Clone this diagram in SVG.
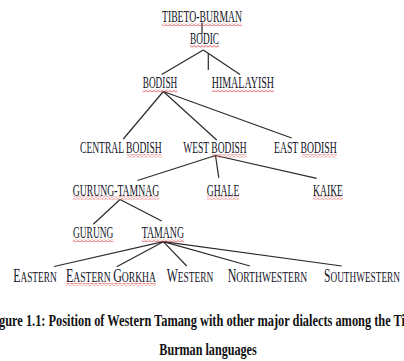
<svg xmlns="http://www.w3.org/2000/svg" width="404" height="361" viewBox="0 0 404 361">
<defs>
<pattern id="wavy" x="0" y="0" width="4" height="3" patternUnits="userSpaceOnUse">
<path d="M0,2.2 L2,0.6 L4,2.2" fill="none" stroke="#e23a3a" stroke-width="0.8"/>
</pattern>
</defs>
<style>
.lbl{font-family:"Liberation Serif","Times New Roman",serif;font-size:16px;fill:#14141f}
.big{font-family:"Liberation Serif","Times New Roman",serif;fill:#14141f}
.cap{font-family:"Liberation Serif","Times New Roman",serif;font-weight:bold;font-size:17px;fill:#111}
.sq{fill:url(#wavy)}
.conn line{stroke:#2a2a2a;stroke-width:1.2}
</style>
<rect width="404" height="361" fill="#ffffff"/>
<g class="conn" id="connectors">
<line x1="202" y1="22.5" x2="202" y2="34"/>
<line x1="203.3" y1="50" x2="161.7" y2="74.5"/>
<line x1="203.3" y1="50" x2="240" y2="74.5"/>
<line x1="208.3" y1="53" x2="208.3" y2="70"/>
<line x1="163.3" y1="91.5" x2="123.3" y2="139"/>
<line x1="163.3" y1="91.5" x2="216.7" y2="140"/>
<line x1="163.3" y1="91.5" x2="291.7" y2="138"/>
<line x1="215.5" y1="155.5" x2="137.5" y2="180.5"/>
<line x1="215.5" y1="155.5" x2="218.8" y2="177.8"/>
<line x1="215.5" y1="155.5" x2="316.7" y2="178.3"/>
<line x1="120" y1="199.5" x2="93.3" y2="224.3"/>
<line x1="120" y1="199.5" x2="161.7" y2="221"/>
<line x1="163.3" y1="241.7" x2="54" y2="266.5"/>
<line x1="163.3" y1="241.7" x2="116.7" y2="266.7"/>
<line x1="163.3" y1="241.7" x2="186.7" y2="266"/>
<line x1="163.3" y1="241.7" x2="250" y2="266"/>
<line x1="163.3" y1="241.7" x2="341.7" y2="266"/>
</g>
<g id="tibeto-burman"><text class="lbl" x="162" y="22" textLength="80" lengthAdjust="spacingAndGlyphs">TIBETO-BURMAN</text><rect class="sq" x="162" y="23" width="80" height="3"/></g>
<g id="bodic"><text class="lbl" x="190" y="44" textLength="29" lengthAdjust="spacingAndGlyphs">BODIC</text><rect class="sq" x="190" y="45" width="29" height="3"/></g>
<g id="bodish"><text class="lbl" x="142.7" y="88.3" textLength="34.6" lengthAdjust="spacingAndGlyphs">BODISH</text><rect class="sq" x="142.7" y="89.3" width="34.6" height="3"/></g>
<g id="himalayish"><text class="lbl" x="211.7" y="88.3" textLength="62.3" lengthAdjust="spacingAndGlyphs">HIMALAYISH</text><rect class="sq" x="211.7" y="89.3" width="62.3" height="3"/></g>
<g id="central-bodish"><text class="lbl" x="80" y="153.3" textLength="81.7" lengthAdjust="spacingAndGlyphs">CENTRAL BODISH</text><rect class="sq" x="127" y="154.3" width="34.7" height="3"/></g>
<g id="west-bodish"><text class="lbl" x="183.3" y="153.3" textLength="63.4" lengthAdjust="spacingAndGlyphs">WEST BODISH</text><rect class="sq" x="212" y="154.3" width="34.7" height="3"/></g>
<g id="east-bodish"><text class="lbl" x="274" y="153.3" textLength="62.7" lengthAdjust="spacingAndGlyphs">EAST BODISH</text><rect class="sq" x="302" y="154.3" width="34.7" height="3"/></g>
<g id="gurung-tamnag"><text class="lbl" x="72.7" y="195.5" textLength="86.6" lengthAdjust="spacingAndGlyphs">GURUNG-TAMNAG</text><rect class="sq" x="72.7" y="196.5" width="86.6" height="3"/></g>
<g id="ghale"><text class="lbl" x="206.7" y="195.5" textLength="32.6" lengthAdjust="spacingAndGlyphs">GHALE</text><rect class="sq" x="206.7" y="196.5" width="32.6" height="3"/></g>
<g id="kaike"><text class="lbl" x="313" y="195.5" textLength="30" lengthAdjust="spacingAndGlyphs">KAIKE</text><rect class="sq" x="313" y="196.5" width="30" height="3"/></g>
<g id="gurung"><text class="lbl" x="73" y="238" textLength="40.3" lengthAdjust="spacingAndGlyphs">GURUNG</text><rect class="sq" x="73" y="239" width="40.3" height="3"/></g>
<g id="tamang"><text class="lbl" x="141.7" y="238" textLength="42.3" lengthAdjust="spacingAndGlyphs">TAMANG</text><rect class="sq" x="141.7" y="239" width="42.3" height="3"/></g>
<g id="eastern"><text class="big" x="13.3" y="282" font-size="18.7" textLength="43.4" lengthAdjust="spacingAndGlyphs">E<tspan font-size="15">ASTERN</tspan></text></g>
<g id="eastern-gorkha"><text class="big" x="66" y="282" font-size="18.7" textLength="90" lengthAdjust="spacingAndGlyphs">E<tspan font-size="15">ASTERN </tspan>G<tspan font-size="15">ORKHA</tspan></text><rect class="sq" x="66" y="283" width="90" height="3"/></g>
<g id="western"><text class="big" x="166.7" y="282" font-size="18.7" textLength="46.6" lengthAdjust="spacingAndGlyphs">W<tspan font-size="15">ESTERN</tspan></text></g>
<g id="northwestern"><text class="big" x="227.7" y="282" font-size="18.7" textLength="79.6" lengthAdjust="spacingAndGlyphs">N<tspan font-size="15">ORTHWESTERN</tspan></text></g>
<g id="southwestern"><text class="big" x="324" y="282" font-size="18.7" textLength="76" lengthAdjust="spacingAndGlyphs">S<tspan font-size="15">OUTHWESTERN</tspan></text></g>
<g id="caption">
<text class="cap" x="-1" y="325.5" textLength="406" lengthAdjust="spacingAndGlyphs">gure 1.1: Position of Western Tamang with other major dialects among the Ti</text>
<text class="cap" x="159.3" y="355" textLength="97.4" lengthAdjust="spacingAndGlyphs">Burman languages</text>
</g>
</svg>
